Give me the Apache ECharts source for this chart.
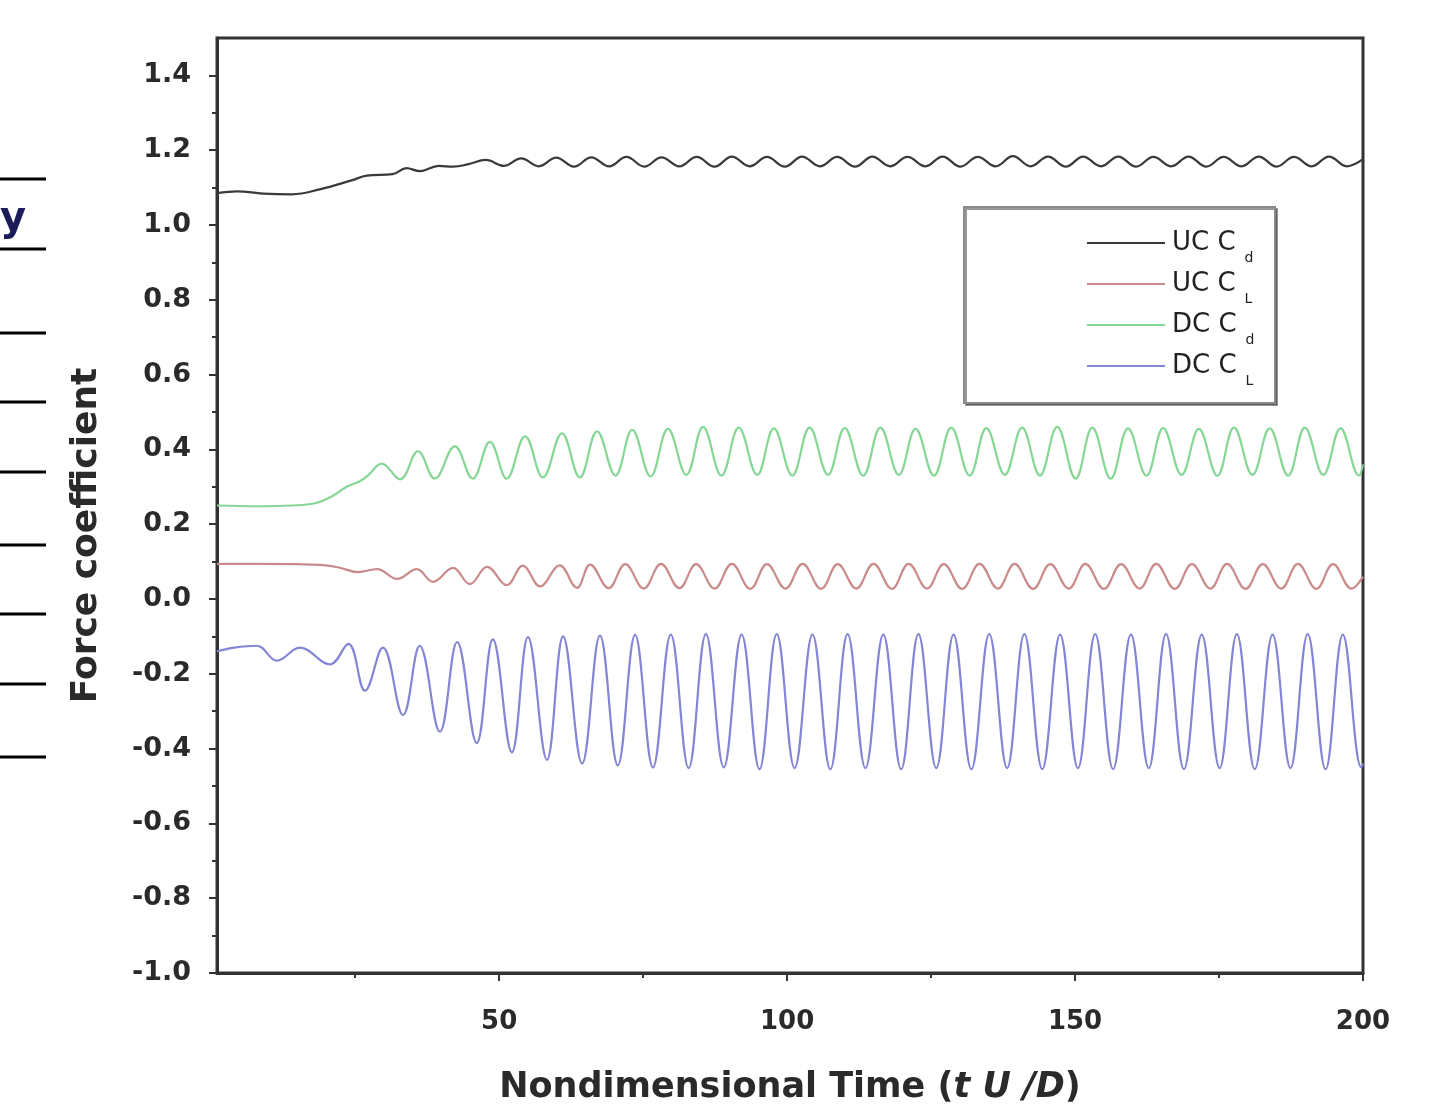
<!DOCTYPE html>
<html>
<head>
<meta charset="utf-8">
<script src="https://cdn.jsdelivr.net/npm/echarts@6/dist/echarts.min.js"></script>
<style>
html,body{margin:0;padding:0;background:#fff;}
#c{width:1440px;height:1106px;}
</style>
</head>
<body>
<div id="c"></div>
<script>
// ---- data ----
var seriesNames = ['UC Cd', 'UC CL', 'DC Cd', 'DC CL'];
var xMajorTicks = [50, 100, 150, 200];
var xMinorTicks = [25, 75, 125, 175];
var yMajorTicks = [-1.0, -0.8, -0.6, -0.4, -0.2, 0.0, 0.2, 0.4, 0.6, 0.8, 1.0, 1.2, 1.4];
var yMinorTicks = [-0.9, -0.7, -0.5, -0.3, -0.1, 0.1, 0.3, 0.5, 0.7, 0.9, 1.1, 1.3];

var ucCd = [[1,1.085],[4.5,1.09],[9,1.084],[14,1.082],[19,1.096],[24.5,1.12],[27,1.132],[31.5,1.136],[33.9,1.152],[36.2,1.144],[39.5,1.158],[42,1.156],[44.5,1.162],[47.7,1.174],[50.8,1.158],[53.8,1.178],[56.9,1.157],[59.9,1.18],[63.0,1.156],[66.0,1.181],[69.1,1.157],[72.1,1.182],[75.2,1.156],[78.2,1.181],[81.3,1.157],[84.3,1.182],[87.4,1.156],[90.4,1.183],[93.5,1.157],[96.5,1.182],[99.6,1.156],[102.6,1.183],[105.7,1.157],[108.7,1.182],[111.8,1.156],[114.8,1.183],[117.9,1.157],[120.9,1.182],[124.0,1.157],[127.0,1.183],[130.1,1.156],[133.1,1.182],[136.2,1.157],[139.2,1.184],[142.3,1.157],[145.3,1.183],[148.4,1.156],[151.4,1.183],[154.5,1.157],[157.5,1.183],[160.6,1.156],[163.6,1.182],[166.7,1.157],[169.7,1.183],[172.8,1.156],[175.8,1.182],[178.9,1.157],[181.9,1.183],[185.0,1.156],[188.0,1.182],[191.1,1.157],[194.1,1.183],[197.2,1.157],[200,1.176]];

var ucCl = [[1,0.094],[8,0.094],[15,0.093],[19,0.091],[22,0.085],[25.5,0.072],[28.8,0.08],[32.3,0.054],[35.7,0.08],[38.5,0.046],[42.0,0.083],[44.9,0.04],[47.9,0.086],[51.3,0.037],[54.1,0.089],[57.1,0.034],[60.5,0.09],[63.5,0.03],[65.8,0.092],[69.0,0.029],[71.9,0.093],[75.1,0.028],[78.1,0.094],[81.3,0.029],[84.2,0.093],[87.4,0.028],[90.4,0.094],[93.6,0.027],[96.5,0.093],[99.7,0.028],[102.7,0.094],[105.9,0.027],[108.8,0.093],[112.0,0.028],[115.0,0.094],[118.2,0.027],[121.1,0.094],[124.3,0.028],[127.2,0.093],[130.4,0.027],[133.4,0.094],[136.6,0.028],[139.5,0.094],[142.7,0.027],[145.7,0.093],[148.9,0.028],[151.8,0.094],[155.0,0.027],[158.0,0.093],[161.2,0.028],[164.1,0.094],[167.3,0.027],[170.3,0.093],[173.5,0.028],[176.4,0.094],[179.6,0.027],[182.6,0.093],[185.8,0.028],[188.7,0.094],[191.9,0.027],[194.8,0.093],[198.0,0.028],[200,0.06]];

var dcCd = [[1,0.25],[8,0.248],[14,0.25],[18,0.256],[21,0.275],[23.5,0.3],[25.8,0.315],[27.2,0.33],[29.6,0.362],[32.8,0.32],[35.9,0.395],[38.8,0.322],[42.3,0.408],[45.4,0.322],[48.4,0.42],[51.3,0.322],[54.5,0.435],[57.6,0.325],[60.9,0.443],[64.0,0.325],[67.0,0.448],[70.2,0.33],[73.1,0.452],[76.3,0.328],[79.3,0.455],[82.5,0.332],[85.4,0.46],[88.6,0.33],[91.6,0.458],[94.8,0.332],[97.7,0.456],[100.9,0.33],[103.9,0.458],[107.1,0.332],[110.0,0.457],[113.2,0.33],[116.2,0.458],[119.4,0.332],[122.3,0.455],[125.5,0.33],[128.5,0.458],[131.7,0.33],[134.6,0.457],[137.8,0.332],[140.8,0.458],[143.9,0.33],[146.9,0.46],[150.1,0.322],[153.0,0.458],[156.2,0.322],[159.2,0.456],[162.4,0.33],[165.3,0.457],[168.5,0.332],[171.5,0.455],[174.7,0.33],[177.6,0.458],[180.8,0.332],[183.8,0.456],[187.0,0.33],[189.9,0.458],[193.1,0.332],[196.1,0.456],[199.3,0.33],[200,0.36]];

var dcCl = [[1,-0.14],[4,-0.13],[7.9,-0.125],[11.4,-0.165],[15.4,-0.13],[20.6,-0.175],[23.8,-0.12],[26.7,-0.245],[29.8,-0.13],[33.3,-0.31],[36.2,-0.125],[39.7,-0.355],[42.7,-0.115],[46.1,-0.385],[48.9,-0.108],[52.2,-0.41],[55.0,-0.102],[58.3,-0.43],[61.1,-0.1],[64.4,-0.44],[67.5,-0.098],[70.6,-0.445],[73.6,-0.096],[76.7,-0.45],[79.8,-0.095],[82.9,-0.452],[85.9,-0.094],[89.0,-0.45],[92.1,-0.095],[95.2,-0.455],[98.2,-0.094],[101.3,-0.452],[104.4,-0.095],[107.5,-0.455],[110.5,-0.094],[113.6,-0.452],[116.7,-0.095],[119.8,-0.455],[122.8,-0.094],[125.9,-0.452],[128.9,-0.095],[132.0,-0.455],[135.1,-0.094],[138.2,-0.452],[141.2,-0.094],[144.3,-0.455],[147.4,-0.095],[150.5,-0.452],[153.5,-0.094],[156.6,-0.455],[159.7,-0.095],[162.8,-0.452],[165.8,-0.094],[168.9,-0.455],[172.0,-0.095],[175.1,-0.452],[178.1,-0.094],[181.2,-0.455],[184.3,-0.095],[187.4,-0.452],[190.4,-0.094],[193.5,-0.455],[196.5,-0.095],[199.7,-0.45],[200,-0.44]];

// ---- chart ----
var seriesData = [ucCd, ucCl, dcCd, dcCl];
var seriesColors = ['#3a3a3a', '#c98b8b', '#86d696', '#8585d6'];
var AX = '#333';
var FONT = 'DejaVu Sans';

var chart = echarts.init(document.getElementById('c'), null, {renderer: 'canvas'});

var leftLines = [179, 249, 333, 402, 472, 545, 614, 684, 757].map(function (y) {
  return {type: 'line', shape: {x1: 0, y1: y, x2: 46, y2: y}, style: {stroke: '#000', lineWidth: 3}};
});

var option = {
  backgroundColor: '#fff',
  animation: false,
  grid: {left: 217, right: 77, top: 38, bottom: 133, show: true, borderColor: AX, borderWidth: 3,
    backgroundColor: 'transparent', containLabel: false, outerBoundsMode: 'none'},
  legend: {
    orient: 'vertical', left: 1082, top: 223, itemWidth: 78, itemHeight: 2, itemGap: 4,
    icon: 'rect',
    data: seriesNames,
    formatter: function (name) { return name.slice(0, -1) + '{s|' + name.slice(-1) + '}'; },
    textStyle: {fontFamily: FONT, fontSize: 26, color: '#222', lineHeight: 30, padding: [0, 0, 0, 2],
      rich: {s: {fontFamily: FONT, fontSize: 14, color: '#222', padding: [30, 0, 0, 9]}}}
  },
  graphic: leftLines.concat([
    {type: 'text', left: 0, top: 200, style: {text: 'y', font: 'bold 40px "DejaVu Sans"', fill: '#1c1c5a'}},
    {type: 'rect', z: 1, shape: {x: 964, y: 207, width: 311, height: 196},
      style: {fill: '#fff', stroke: '#8a8a8a', lineWidth: 2, shadowColor: 'rgba(0,0,0,0.4)', shadowOffsetX: 2, shadowOffsetY: 2, shadowBlur: 0}}
  ]),
  xAxis: [{
    type: 'value', min: 1, max: 200,
    name: 'Nondimensional Time ({i|t U /D})', nameLocation: 'middle', nameGap: 97,
    nameTextStyle: {fontFamily: FONT, fontWeight: 'bold', fontSize: 35, color: '#2a2a2a',
      rich: {i: {fontFamily: FONT, fontWeight: 'bold', fontStyle: 'italic', fontSize: 35, color: '#2a2a2a'}}},
    axisLine: {onZero: false, lineStyle: {color: AX, width: 3}},
    axisTick: {customValues: xMajorTicks, length: 8, lineStyle: {color: AX, width: 2}},
    axisLabel: {customValues: xMajorTicks, margin: 36, fontFamily: FONT, fontWeight: 'bold', fontSize: 26, color: '#2a2a2a'},
    splitLine: {show: false}
  }, {
    type: 'value', min: 1, max: 200, position: 'bottom', offset: 0,
    axisLine: {show: false, onZero: false},
    axisTick: {customValues: xMinorTicks, length: 5, lineStyle: {color: AX, width: 2}},
    axisLabel: {show: false}, splitLine: {show: false}
  }],
  yAxis: [{
    type: 'value', min: -1.0, max: 1.5,
    name: 'Force coefficient', nameLocation: 'middle', nameGap: 112,
    nameTextStyle: {fontFamily: FONT, fontWeight: 'bold', fontSize: 36, color: '#2a2a2a', padding: [0, 60, 0, 0]},
    axisLine: {onZero: false, lineStyle: {color: AX, width: 3}},
    axisTick: {customValues: yMajorTicks, length: 8, lineStyle: {color: AX, width: 2}},
    axisLabel: {customValues: yMajorTicks, margin: 26, fontFamily: FONT, fontWeight: 'bold', fontSize: 27, color: '#2a2a2a',
      formatter: function (v) { return v.toFixed(1); }},
    splitLine: {show: false}
  }, {
    type: 'value', min: -1.0, max: 1.5, position: 'left', offset: 0,
    axisLine: {show: false, onZero: false},
    axisTick: {customValues: yMinorTicks, length: 5, lineStyle: {color: AX, width: 2}},
    axisLabel: {show: false}, splitLine: {show: false}
  }],
  series: seriesNames.map(function (n, i) {
    return {name: n, type: 'line', xAxisIndex: 0, yAxisIndex: 0, data: seriesData[i],
      symbol: 'none', smooth: 0.4, z: 3,
      lineStyle: {color: seriesColors[i], width: 2.2}, itemStyle: {color: seriesColors[i]}};
  })
};
chart.setOption(option);
</script>
</body>
</html>
